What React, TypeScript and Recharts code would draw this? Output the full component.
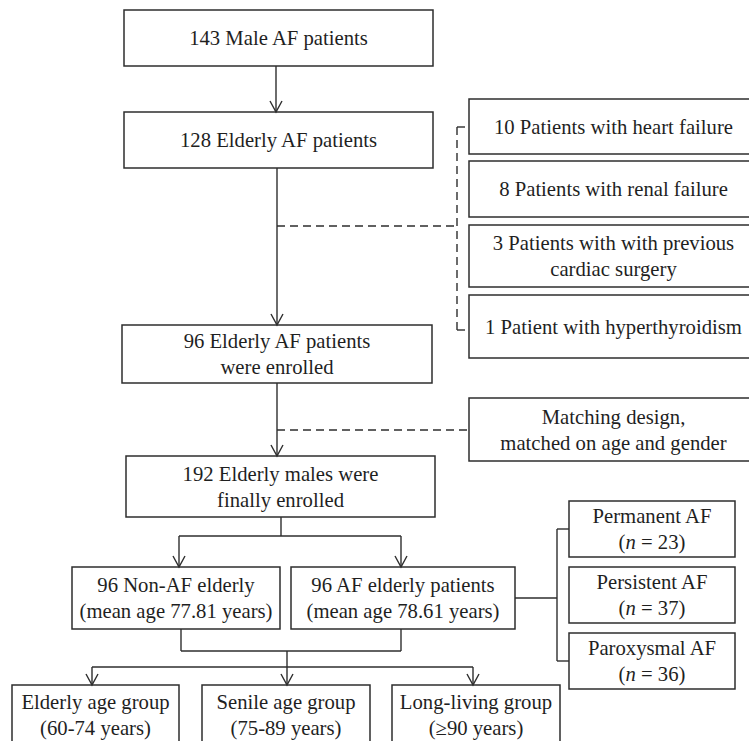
import React from 'react';
import { ComposedChart, XAxis, YAxis, ReferenceArea, ReferenceLine, Scatter } from 'recharts';

const FONT = "'Liberation Serif', 'Times New Roman', 'DejaVu Serif', serif";
const INK = '#2e2e2e';
const TEXT = '#1f1f1f';

// Box texts (one entry per box, one string per line)
const boxTexts: string[][] = [
  ['143 Male AF patients'],
  ['128 Elderly AF patients'],
  ['10 Patients with heart failure'],
  ['8 Patients with renal failure'],
  ['3 Patients with with previous', 'cardiac surgery'],
  ['1 Patient with hyperthyroidism'],
  ['96 Elderly AF patients', 'were enrolled'],
  ['Matching design,', 'matched on age and gender'],
  ['192 Elderly males were', 'finally enrolled'],
  ['96 Non-AF elderly', '(mean age 77.81 years)'],
  ['96 AF elderly patients', '(mean age 78.61 years)'],
  ['Permanent AF', '(n = 23)'],
  ['Persistent AF', '(n = 37)'],
  ['Paroxysmal AF', '(n = 36)'],
  ['Elderly age group', '(60-74 years)'],
  ['Senile age group', '(75-89 years)'],
  ['Long-living group', '(≥90 years)'],
];

// Layout of the boxes in flow units: [x1, x2, y1, y2]
const boxLayout: number[][] = [
  [124, 433, 10, 66],
  [124, 433, 112, 168],
  [469, 758, 99, 154],
  [469, 758, 161, 217],
  [469, 758, 225, 287],
  [469, 758, 295, 358],
  [122, 432, 325, 383],
  [469, 758, 398, 461],
  [126, 435, 456, 517],
  [72, 280, 567, 629],
  [291, 515, 567, 629],
  [569, 735, 501, 557],
  [569, 735, 567, 623],
  [569, 735, 633, 689],
  [12, 179, 685, 748],
  [202, 370, 685, 748],
  [392, 560, 685, 748],
];

// Connectors in flow units: [x1, y1, x2, y2, kind]  kind: 'a' arrow, 's' solid, 'd' dashed
const connectors: [number, number, number, number, string][] = [
  [276, 66, 276, 112, 'a'],
  [277, 168, 277, 325, 'a'],
  [277, 226, 457, 226, 'd'],
  [457, 127, 457, 330, 'd'],
  [457, 127, 469, 127, 'd'],
  [457, 330, 469, 330, 'd'],
  [277, 383, 277, 456, 'a'],
  [277, 430, 469, 430, 'd'],
  [281, 517, 281, 536, 's'],
  [179, 536, 401, 536, 's'],
  [179, 536, 179, 567, 'a'],
  [401, 536, 401, 567, 'a'],
  [515, 598, 557, 598, 's'],
  [557, 529, 557, 661, 's'],
  [557, 529, 569, 529, 's'],
  [557, 661, 569, 661, 's'],
  [181, 629, 181, 651, 's'],
  [401, 629, 401, 651, 's'],
  [181, 651, 401, 651, 's'],
  [287, 651, 287, 667, 's'],
  [92, 667, 473, 667, 's'],
  [92, 667, 92, 685, 'a'],
  [287, 667, 287, 685, 'a'],
  [473, 667, 473, 685, 'a'],
];

const labelData = boxTexts.map((lines, i) => ({
  x: (boxLayout[i][0] + boxLayout[i][1]) / 2,
  y: (boxLayout[i][2] + Math.min(boxLayout[i][3], 745)) / 2,
  lines,
}));

const FS = 20.7;
const LH = 26;

function renderLine(line: string) {
  const m = line.match(/^\(n = (.*)\)$/);
  if (m) {
    return (
      <>
        {'('}
        <tspan fontStyle="italic">n</tspan>
        {` = ${m[1]})`}
      </>
    );
  }
  return line;
}

const LabelShape = (props: any) => {
  const { cx, cy, payload } = props;
  if (cx == null || cy == null) return null;
  const lines: string[] = payload.lines;
  const n = lines.length;
  return (
    <g>
      {lines.map((l, i) => (
        <text
          key={i}
          x={cx}
          y={cy + (i - (n - 1) / 2) * LH + 7}
          textAnchor="middle"
          fontFamily={FONT}
          fontSize={FS}
          fill={TEXT}
          style={{ fontFamily: FONT }}
        >
          {renderLine(l)}
        </text>
      ))}
    </g>
  );
};

const makeShape = (kind: string) => (p: any) => {
  const { x1, y1, x2, y2 } = p;
  const dash = kind === 'd' ? '8 5' : undefined;
  return (
    <g>
      <line x1={x1} y1={y1} x2={x2} y2={y2} stroke={INK} strokeWidth={1.4} strokeDasharray={dash} />
      {kind === 'a' && (
        <polyline
          points={`${x2 - 6},${y2 - 11} ${x2},${y2} ${x2 + 6},${y2 - 11}`}
          fill="none"
          stroke={INK}
          strokeWidth={1.4}
        />
      )}
    </g>
  );
};

export default function App() {
  return (
    <div style={{ position: 'absolute', left: 0, top: 0, width: 749, height: 741, background: '#fff' }}>
      <ComposedChart width={749} height={741} margin={{ top: 0, right: 0, bottom: 0, left: 0 }} data={labelData}>
        <XAxis type="number" dataKey="x" domain={[0, 749]} hide allowDataOverflow />
        <YAxis type="number" dataKey="y" domain={[0, 741]} reversed hide allowDataOverflow />
        {boxLayout.map((b, i) => (
          <ReferenceArea
            key={`b${i}`}
            x1={b[0]}
            x2={b[1]}
            y1={b[2]}
            y2={b[3]}
            ifOverflow="visible"
            fill="#ffffff"
            fillOpacity={1}
            stroke={INK}
            strokeWidth={1.5}
          />
        ))}
        {connectors.map((c, i) => (
          <ReferenceLine
            key={`c${i}`}
            segment={[{ x: c[0], y: c[1] }, { x: c[2], y: c[3] }]}
            ifOverflow="visible"
            shape={makeShape(c[4])}
          />
        ))}
        <Scatter data={labelData} dataKey="y" shape={LabelShape} isAnimationActive={false} />
      </ComposedChart>
    </div>
  );
}
